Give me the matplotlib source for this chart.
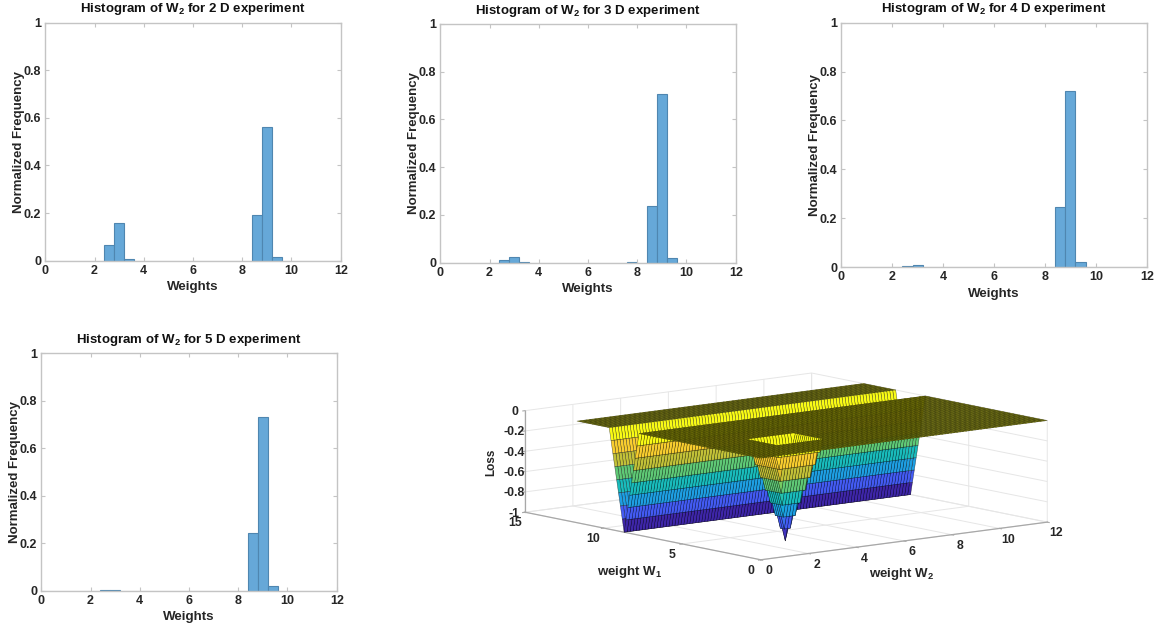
import numpy as np
import matplotlib
matplotlib.use("Agg")
import matplotlib.pyplot as plt
from matplotlib.colors import LinearSegmentedColormap

plt.rcParams.update({
    'font.family': ['Liberation Sans', 'DejaVu Sans'],
    'font.weight': 'bold',
    'axes.labelweight': 'bold',
    'axes.titleweight': 'bold',
    'mathtext.fontset': 'custom',
    'mathtext.rm': 'Liberation Sans:bold',
    'mathtext.default': 'rm',
    'axes.unicode_minus': False,
})

W, H = 1163, 632
TXT = '#262626'
GREY = '#C4C4C4'

# Histogram data: normalized frequency per 0.4-wide bin from 0 to 12
bin_edges = [round(0.4 * i, 1) for i in range(31)]
heights_2d = [0, 0, 0, 0, 0, 0, .065, .160, .006, 0, 0, 0, 0, 0, 0, 0, 0, 0, 0, 0, 0, .190, .563, .015, 0, 0, 0, 0, 0, 0]
heights_3d = [0, 0, 0, 0, 0, 0, .011, .023, .001, 0, 0, 0, 0, 0, 0, 0, 0, 0, 0, .001, 0, .238, .707, .020, 0, 0, 0, 0, 0, 0]
heights_4d = [0, 0, 0, 0, 0, 0, .004, .008, 0, 0, 0, 0, 0, 0, 0, 0, 0, 0, 0, 0, 0, .244, .721, .021, 0, 0, 0, 0, 0, 0]
heights_5d = [0, 0, 0, 0, 0, 0, .001, .002, 0, 0, 0, 0, 0, 0, 0, 0, 0, 0, 0, 0, 0, .245, .730, .020, 0, 0, 0, 0, 0, 0]
dims = [2, 3, 4, 5]
x_ticks = [0, 2, 4, 6, 8, 10, 12]
y_ticks = [0, 0.2, 0.4, 0.6, 0.8, 1]
y_tick_labels = ['0', '0.2', '0.4', '0.6', '0.8', '1']

# Loss surface: knots
w1_knots = [0, 7.75, 8.7, 9.65, 11.7]
trench_loss = [0, 0, -1, 0, 0]
w1_breaks = [0, 2, 3, 4, 7.75, 8.7, 9.65, 11.7]
w1_cells = [16, 8, 8, 30, 8, 8, 17]
pit_center = (3, 3)
pit_half_width = 1
w1_ticks = [0, 5, 10, 15]
w2_ticks = [0, 2, 4, 6, 8, 10, 12]
z_ticks = [-1, -0.8, -0.6, -0.4, -0.2, 0]
z_tick_labels = ['-1', '-0.8', '-0.6', '-0.4', '-0.2', '0']

parula = LinearSegmentedColormap.from_list('parula', [
    (0.2422, 0.1504, 0.6603), (0.2810, 0.3228, 0.9579), (0.1540, 0.5902, 0.9218),
    (0.0297, 0.7082, 0.8163), (0.1938, 0.7758, 0.6251), (0.5044, 0.7993, 0.3480),
    (0.8650, 0.7395, 0.1665), (0.9892, 0.8136, 0.1885), (0.9769, 0.9839, 0.0805)])

fig = plt.figure(figsize=(W / 100, H / 100), dpi=100)


def px_axes(x0, y0, x1, y1, **kw):
    return fig.add_axes([x0 / W, 1 - y1 / H, (x1 - x0) / W, (y1 - y0) / H], **kw)


boxes = [(45.3, 22.7, 340.7, 260.7), (440.3, 24, 735.7, 262.7),
         (841.3, 22.7, 1146.7, 267), (41.3, 353.3, 336.7, 590.7)]
series = [heights_2d, heights_3d, heights_4d, heights_5d]

for box, d, h in zip(boxes, dims, series):
    ax = px_axes(*box)
    bw, bh = box[2] - box[0], box[3] - box[1]
    ax.bar(bin_edges[:-1], h, width=0.4, align='edge', color='#66A8D8',
           edgecolor=['#4F86B0' if v > 0 else GREY for v in h], linewidth=0.8)
    ax.set_xlim(0, 12)
    ax.set_ylim(0, 1)
    ax.set_xticks(x_ticks)
    ax.set_yticks(y_ticks, y_tick_labels)
    ax.tick_params(direction='in', length=3, width=0.8, color=GREY, labelcolor=TXT,
                   labelsize=9, top=True, right=True, pad=3)
    for s in ax.spines.values():
        s.set_color(GREY)
        s.set_linewidth(1.0)
    ax.set_xlabel('Weights', fontsize=9.6, color=TXT, va='center')
    ax.xaxis.set_label_coords(0.5, -26.5 / bh)
    ax.set_ylabel('Normalized Frequency', fontsize=9.5, color=TXT, va='center')
    ax.yaxis.set_label_coords(-26.5 / bw, 0.5)
    ax.set_title(f'Histogram of W$_2$ for {d} D experiment', fontsize=9.5, color='#111111', pad=7.5)

# Surface panel
side = 600
cx, cy = 778.1, 474.5
ax3 = px_axes(cx - side / 2, cy - side / 2, cx + side / 2, cy + side / 2, projection='3d')
ax3.patch.set_alpha(0)
ax3.set_proj_type('ortho')
ax3.view_init(elev=9.37, azim=-128.9)
ax3.set_box_aspect((371.5, 378.7, 103.9), zoom=1.04 * 500 / 600)

w2_grid = np.linspace(0, 12, 97)
w1_grid = np.concatenate([np.linspace(a, b, n, endpoint=False)
                          for a, b, n in zip(w1_breaks[:-1], w1_breaks[1:], w1_cells)] + [[w1_breaks[-1]]])
X, Y = np.meshgrid(w2_grid, w1_grid)
trench = np.interp(Y, w1_knots, trench_loss)
pit = -np.clip(pit_half_width - np.maximum(np.abs(Y - pit_center[0]), np.abs(X - pit_center[1])), 0, None) / pit_half_width
Z = np.minimum(trench, pit)
ax3.plot_surface(X, Y, Z, rstride=1, cstride=1, cmap=parula, vmin=-0.9375, vmax=-0.0625,
                 edgecolor=(0, 0, 0, 0.6), linewidth=0.35, antialiased=True, shade=False)

ax3.set_xlim(0, 12, view_margin=0)
ax3.set_ylim(0, 15, view_margin=0)
ax3.set_zlim(-1, 0, view_margin=0)
ax3.set_xticks(w2_ticks)
ax3.set_yticks(w1_ticks)
ax3.set_zticks(z_ticks, z_tick_labels)
ax3.tick_params(labelsize=8.8, labelcolor=TXT, color='#A8A8A8')
ax3.tick_params(axis='x', pad=0)
ax3.tick_params(axis='y', pad=0)
ax3.tick_params(axis='z', pad=-3.4)
for t in ax3.zaxis.get_ticklabels():
    t.set_va('center_baseline')
for axis in (ax3.xaxis, ax3.yaxis, ax3.zaxis):
    axis.set_pane_color((1, 1, 1, 0))
    axis.pane.set_edgecolor('#DDDDDD')
    axis.line.set_color('#A8A8A8')
    axis.line.set_linewidth(0.9)
    axis._axinfo['grid'].update(color='#E6E6E6', linewidth=0.7)
    axis._axinfo['tick'].update(inward_factor=0.1, outward_factor=0, color='#A8A8A8')

for s, px, py, rot, size in [('weight W$_2$', 902, 574, 0, 9.5), ('weight W$_1$', 630, 572, 0, 9.5),
                             ('Loss', 491, 462, 90, 8.5)]:
    ax3.text2D(px / W, 1 - py / H, s, transform=fig.transFigure, fontsize=size, color=TXT,
               ha='center', va='center', rotation=rot)

fig.savefig('out.png', dpi=100)
